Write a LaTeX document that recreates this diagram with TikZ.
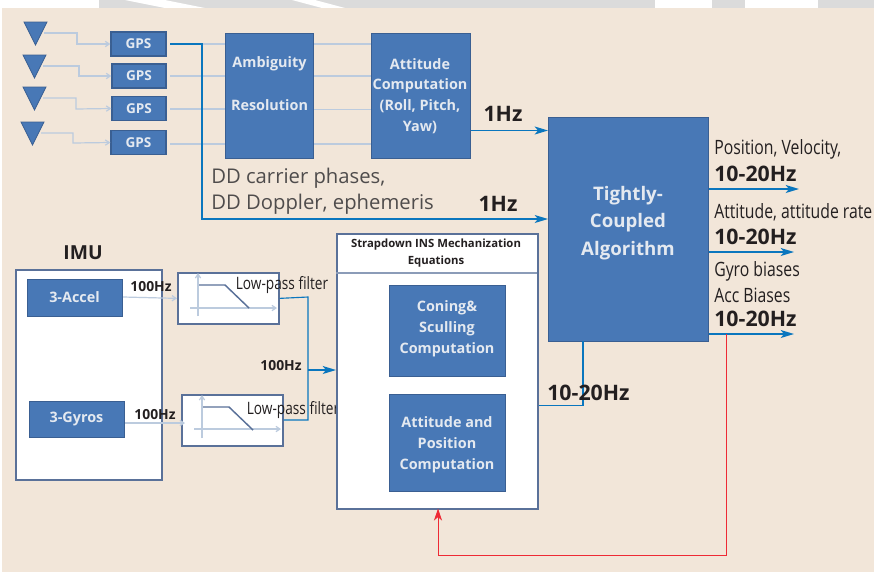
\documentclass[tikz,border=0pt]{standalone}
\usepackage{fontspec}
\setmainfont{Open Sans}
\newfontfamily\condfont[FakeStretch=0.8]{Open Sans}
\usetikzlibrary{arrows.meta}
\definecolor{bgc}{HTML}{F2E6D9}
\definecolor{boxc}{HTML}{4878B6}
\definecolor{boxe}{HTML}{3A5F92}
\definecolor{framec}{HTML}{5A7199}
\definecolor{linec}{HTML}{0A76BE}
\definecolor{pale}{HTML}{BCCBDE}
\definecolor{redc}{HTML}{EE2A35}
\definecolor{inkc}{HTML}{231F20}
\definecolor{txtc}{HTML}{E4E9F0}
\tikzset{
 bluebox/.style={draw=boxe,line width=0.9pt,fill=boxc,inner sep=0pt,minimum width=#1,anchor=north west},
 gpsbox/.style={draw=boxe,line width=1pt,fill=boxc,text=txtc,font=\fontsize{10.2}{12}\selectfont\bfseries,inner sep=0pt},
 boxtext/.style={font=\fontsize{10.8}{15.6}\selectfont\bfseries,text=txtc,align=center,inner sep=0pt},
 frame/.style={draw=framec,line width=1.3pt,fill=white},
 antenna/.style={draw=boxe,line width=0.6pt,fill=boxc},
 pale line/.style={draw=pale,line width=0.9pt},
 pale arrow/.style={pale line,-{Straight Barb[length=3pt,width=4pt]}},
 blue line/.style={draw=linec,line width=0.85pt},
 blue arrow/.style={draw=linec,line width=1pt,-{Stealth[length=10pt,width=6pt,inset=2.5pt]}},
 thin arrow/.style={blue line,-{Stealth[length=10pt,width=6pt,inset=2.5pt]}},
 red arrow/.style={draw=redc,line width=0.7pt,-{Stealth[length=9pt,width=6pt,inset=2.5pt]}},
 hz/.style={font=\fontsize{16}{18}\selectfont\bfseries,text=inkc,inner sep=0pt},
 smallhz/.style={font=\fontsize{10.4}{12}\selectfont\bfseries,text=inkc,inner sep=0pt},
 cond/.style={font=\fontsize{14.8}{16}\selectfont\condfont,text=inkc,inner sep=0pt,anchor=west},
 lpf/.style={font=\fontsize{12.8}{14}\selectfont\condfont,text=inkc,inner sep=0pt},
 dd/.style={font=\fontsize{15.2}{18}\selectfont,text=inkc!80,inner sep=0pt,anchor=west},
}
\begin{document}
\begin{tikzpicture}[x=0.75pt,y=-0.75pt]
\useasboundingbox (0,0) rectangle (874,572);
\fill[white] (0,0) rectangle (874,572);
\fill[black!14] (99,0) rectangle (874,8);
\fill[white] (125,0) -- (165,8) -- (205,8) -- (165,0) -- cycle;
\fill[white] (292,0) -- (322,8) -- (345,8) -- (315,0) -- cycle;
\fill[white] (655,0) rectangle (712,8);
\fill[white] (745,0) rectangle (818,8);
\fill[bgc] (2,8) rectangle (874,572);

% antennas
\path[antenna] (24,22) -- (47,22) -- (35.5,45) -- cycle;
\path[antenna] (23,55) -- (46,55) -- (34.5,78) -- cycle;
\path[antenna] (23,87) -- (46,87) -- (34.5,110) -- cycle;
\path[antenna] (21,122) -- (44,122) -- (32.5,145) -- cycle;
\coordinate (a1) at (44,33);
\coordinate (a2) at (43,66);
\coordinate (a3) at (43,98);
\coordinate (a4) at (41,133);

% GPS
\node[gpsbox,minimum width=55pt*0.75,minimum height=24pt*0.75] (g1) at (138.5,44) {GPS};
\node[gpsbox,minimum width=54pt*0.75,minimum height=24pt*0.75] (g2) at (139,76) {GPS};
\node[gpsbox,minimum width=54pt*0.75,minimum height=24pt*0.75] (g3) at (139,108.5) {GPS};
\node[gpsbox,minimum width=55pt*0.75,minimum height=24pt*0.75] (g4) at (138.5,142.5) {GPS};

% large blue boxes
\node[bluebox=88pt*0.75,minimum height=125pt*0.75] (amb) at (225,33) {};
\node[boxtext] at (269.5,64) {Ambiguity};
\node[boxtext] at (269.5,105) {Resolution};
\node[bluebox=99pt*0.75,minimum height=125pt*0.75] (att) at (371,33) {};
\node[boxtext] at (420,96) {Attitude\\Computation\\(Roll, Pitch,\\Yaw)};
\node[bluebox=160pt*0.75,minimum height=224pt*0.75] (tc) at (548,117) {};
\node[font=\fontsize{14}{20.5}\selectfont\bfseries,text=txtc,align=center,inner sep=0pt] at (628,223) {Tightly-\\Coupled\\Algorithm};

\coordinate (g1o) at (170,44);
\draw[pale line] (170,76) -- (amb.west |- 0,76);
\draw[pale line] (170,109) -- (amb.west |- 0,109);
\draw[pale line] (170,144) -- (amb.west |- 0,144);
\draw[pale line] (g1o) -- (amb.west |- g1o);
\draw[pale line] (amb.east |- 0,44) -- (att.west |- 0,44);
\draw[pale line] (amb.east |- 0,76) -- (att.west |- 0,76);
\draw[pale line] (amb.east |- 0,109.5) -- (att.west |- 0,109.5);
\draw[pale line] (amb.east |- 0,144) -- (att.west |- 0,144);
\draw[pale arrow] (a1) -- (77,33) -- (77,44) -- (g1.west);
\draw[pale arrow] (a2) -- (79,66) -- (79,76) -- (g2.west);
\draw[pale arrow] (a3) -- (76,98) -- (76,109) -- (g3.west);
\draw[pale arrow] (a4) -- (73,133) -- (73,143) -- (g4.west);

% blue GPS bus
\draw[thin arrow] (g1o) -- (202,44) -- (202,219) -- (tc.west |- 0,219);
\draw[blue arrow] (att.east |- 0,130.5) -- (tc.west |- 0,130.5);
\node[dd] at (211,178) {DD carrier phases,};
\node[dd] at (211,204) {DD Doppler, ephemeris};
\node[hz] at (503,114) {1Hz};
\node[hz] at (498,204) {1Hz};

% outputs
\draw[blue arrow] (tc.east |- 0,189) -- (799,189);
\draw[blue arrow] (tc.east |- 0,252) -- (794,252);
\draw[blue arrow] (tc.east |- 0,334) -- (794,334);
\node[cond] at (714,149.5) {Position, Velocity,};
\node[cond] at (714,212) {Attitude, attitude rate};
\node[cond] at (714,271) {Gyro biases};
\node[cond] at (714,295) {Acc Biases};
\node[hz,anchor=west] at (714,173.5) {10-20Hz};
\node[hz,anchor=west] at (714,236.5) {10-20Hz};
\node[hz,anchor=west] at (714,318.5) {10-20Hz};

% IMU
\node[font=\fontsize{14.5}{16}\selectfont\bfseries,text=inkc,inner sep=0pt] at (83,253) {IMU};
\node[frame,minimum width=146pt*0.75,minimum height=210pt*0.75,anchor=north west,inner sep=0pt] (imu) at (15,269) {};
\node[bluebox=95pt*0.75,minimum height=37pt*0.75] (acc) at (27,279) {};
\node[boxtext] at (74.5,297.5) {3-Accel};
\node[bluebox=95pt*0.75,minimum height=36pt*0.75] (gyr) at (29,401) {};
\node[boxtext] at (76.5,419) {3-Gyros};

% filters
\node[frame,minimum width=101pt*0.75,minimum height=51pt*0.75,anchor=north west,inner sep=0pt] (f1) at (177,272) {};
\node[frame,minimum width=101pt*0.75,minimum height=51pt*0.75,anchor=north west,inner sep=0pt] (f2) at (181,394) {};
\draw[pale arrow] (acc.east |- 0,297) -- (f1.west);
\draw[pale arrow] (gyr.east |- 0,423) -- (185,423);
\draw[pale arrow] (198,316) -- (198,273);
\draw[pale arrow] (190,308) -- (277,308);
\draw[framec,line width=1.1pt] (199,285) -- (225,285) -- (249,308);
\draw[pale arrow] (202,438) -- (202,395);
\draw[pale arrow] (194,429) -- (281,429);
\draw[framec,line width=1.1pt] (203,407) -- (229,407) -- (253,430);
\node[smallhz] at (151,287) {100Hz};
\node[smallhz] at (155,415) {100Hz};
\node[smallhz] at (281,366) {100Hz};
\node[lpf] at (282,285) {Low-pass filter};
\node[lpf] at (293,410) {Low-pass filter};

% Strapdown
\node[frame,minimum width=201pt*0.75,minimum height=275pt*0.75,anchor=north west,inner sep=0pt] (ins) at (336,233) {};
\draw[framec!70,line width=0.8pt] (336,273) -- (537,273);
\node[font=\fontsize{8.5}{12.5}\selectfont\bfseries,text=inkc,align=center,inner sep=0pt] at (436,253) {Strapdown INS Mechanization\\Equations};
\node[bluebox=116pt*0.75,minimum height=91pt*0.75] (con) at (389,285) {};
\node[boxtext] at (447,329) {Coning\&\\Sculling\\Computation};
\node[bluebox=116pt*0.75,minimum height=97pt*0.75] (pos) at (389,394) {};
\node[boxtext] at (447,445) {Attitude and\\Position\\Computation};

% filter merge
\coordinate (fm) at (308,370);
\draw[blue line] (f1.east) -- (308,297) -- (308,420) -- (f2.east |- 0,420);
\draw[blue arrow] (fm) -- (ins.west |- fm);

% feedback
\draw[blue line] (ins.east |- 0,405.5) -- (583,405.5) -- (583,341);
\node[hz,anchor=west] at (547,392.5) {10-20Hz};
\coordinate (rb) at (726,555);
\draw[red arrow] (726,334) -- (rb) -- (438,555) -- (438,508.5);
\end{tikzpicture}
\end{document}
